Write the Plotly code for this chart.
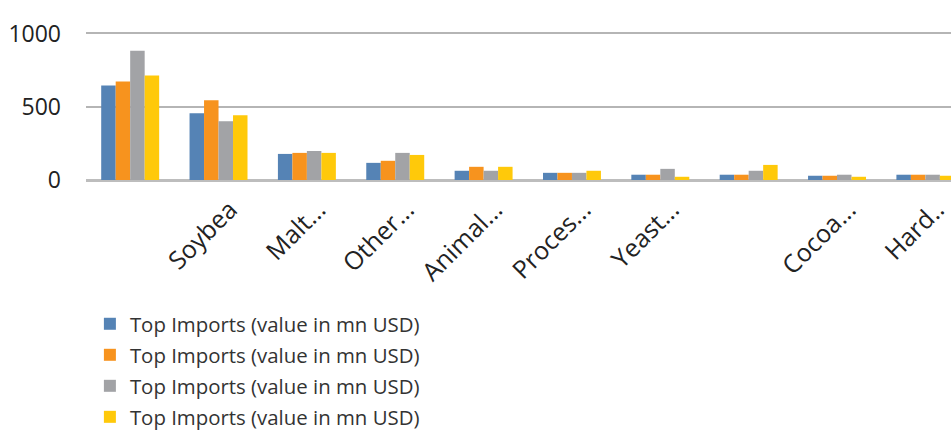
import plotly.graph_objects as go

# category labels as shown (truncated, some blank)
categories = ["", "Soybea", "Malt...", "Other...", "Animal...", "Proces...",
              "Yeast...", "", "Cocoa...", "Hard.."]

series_names = ["Top Imports (value in mn USD)"] * 4

s1 = [645, 456, 178, 117, 63, 49, 36, 36, 29, 36]
s2 = [672, 544, 185, 131, 90, 49, 36, 36, 29, 36]
s3 = [882, 401, 198, 185, 63, 49, 76, 63, 36, 36]
s4 = [713, 442, 185, 171, 90, 63, 22, 103, 22, 29]

colors = ["#5583B5", "#F7931E", "#A2A3A6", "#FFC90A"]

x = list(range(len(categories)))

fig = go.Figure()
for i, (name, vals, col) in enumerate(zip(series_names, [s1, s2, s3, s4], colors)):
    fig.add_trace(go.Bar(x=x, y=vals, name=name, marker_color=col,
                         marker_line_width=0, legendgroup="g%d" % i))

fig.update_layout(
    width=951, height=430,
    margin=dict(l=86, r=0, t=31.5, b=249.7, autoexpand=False),
    paper_bgcolor="white", plot_bgcolor="white",
    barmode="group", bargap=0.344, bargroupgap=0,
    font=dict(family="Open Sans", color="#333333"),
    showlegend=True,
    legend=dict(x=0.0045, y=0.293, xref="paper", yref="container",
                xanchor="left", yanchor="top",
                font=dict(size=20.4, color="#333333"),
                bgcolor="rgba(0,0,0,0)", tracegroupgap=1.5),
)

# labels sit a bit right of the group centre, like the original
fig.update_xaxes(
    range=[-0.5, 9.29], tickvals=[i + 0.13 for i in x], ticktext=categories,
    tickangle=-45, tickfont=dict(size=25, color="#222222"),
    showgrid=False, showline=False, zeroline=False, ticks="",
    ticklabelstandoff=9, ticklabeloverflow="allow", automargin=False,
)
fig.update_yaxes(
    range=[0, 1010], tickvals=[0, 500, 1000],
    tickfont=dict(size=23, color="#222222"),
    showgrid=True, gridcolor="#B5B5B5", gridwidth=1.5,
    zeroline=True, zerolinecolor="#BDBDBD", zerolinewidth=2.5,
    showline=False, ticklabelstandoff=24, automargin=False,
)

fig.write_html("out.html", config={"displayModeBar": False},
               post_script="document.body.style.margin='0';")
